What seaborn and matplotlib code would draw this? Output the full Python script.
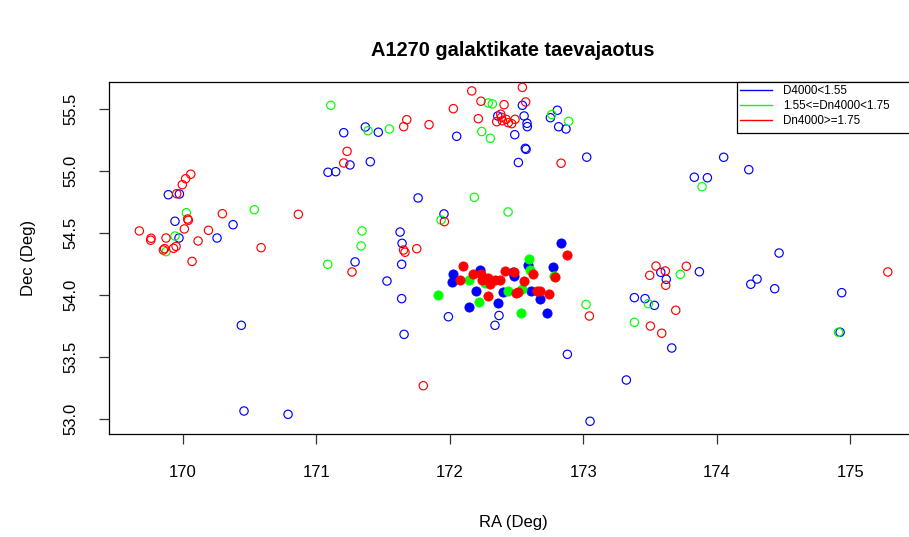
import matplotlib
matplotlib.use("Agg")
import matplotlib.pyplot as plt
from matplotlib.lines import Line2D
from matplotlib.patches import Rectangle
import seaborn as sns
import pandas as pd

plt.rcParams['font.family'] = ['Liberation Sans', 'DejaVu Sans']

# ---- data (RA, Dec in degrees) ----
open_blue_ra = [171.206, 171.253, 171.088, 171.146, 169.892, 169.975, 169.942, 170.377, 169.972, 170.257,
                170.439, 170.459, 170.789, 171.368, 171.465, 171.405, 172.052, 171.763, 171.957, 171.291,
                171.530, 171.628, 171.643, 171.640, 171.640, 171.658, 171.990, 172.369, 172.339, 172.544,
                172.360, 172.557, 172.579, 172.581, 172.487, 172.566, 172.572, 172.514, 172.754, 172.806,
                172.816, 172.871, 173.026, 174.052, 174.240, 173.832, 173.930, 174.467, 174.936, 174.924,
                173.870, 173.581, 173.622, 174.255, 174.302, 174.434, 173.383, 173.463, 173.533, 173.663,
                173.323, 173.051, 172.881]
open_blue_dec = [55.311, 55.051, 54.992, 54.997, 54.811, 54.817, 54.597, 54.569, 54.462, 54.462,
                 53.758, 53.067, 53.040, 55.357, 55.315, 55.077, 55.282, 54.785, 54.656, 54.269,
                 54.115, 54.510, 54.419, 54.250, 53.973, 53.685, 53.827, 53.837, 53.758, 55.532,
                 55.446, 55.446, 55.387, 55.360, 55.295, 55.185, 55.177, 55.071, 55.432, 55.492,
                 55.359, 55.341, 55.114, 55.113, 55.013, 54.952, 54.948, 54.341, 54.021, 53.702,
                 54.190, 54.185, 54.129, 54.089, 54.131, 54.053, 53.981, 53.973, 53.919, 53.575,
                 53.317, 52.984, 53.524]

open_green_ra = [171.109, 171.388, 171.548, 172.289, 172.319, 172.240, 172.304, 172.184, 172.437, 172.764,
                 172.891, 173.890, 170.027, 169.942, 169.875, 170.536, 171.086, 171.343, 171.336, 171.935,
                 173.021, 173.488, 173.727, 173.383, 174.912]
open_green_dec = [55.532, 55.327, 55.341, 55.551, 55.543, 55.321, 55.266, 54.790, 54.672, 55.458,
                  55.403, 54.876, 54.666, 54.478, 54.352, 54.690, 54.250, 54.519, 54.398, 54.607,
                  53.926, 53.932, 54.169, 53.782, 53.702]

open_red_ra = [171.231, 171.206, 170.060, 170.022, 169.997, 169.955, 170.297, 170.866, 170.042, 170.037,
               170.012, 169.675, 170.193, 169.763, 169.760, 169.875, 170.115, 169.864, 169.855, 169.931,
               169.950, 170.070, 170.587, 171.268, 171.654, 171.665, 171.753, 171.960, 171.678, 171.655,
               171.845, 172.027, 172.165, 172.234, 172.407, 172.544, 172.569, 172.214, 172.382, 172.352,
               172.394, 172.422, 172.439, 172.464, 172.489, 172.387, 172.834, 175.281, 173.772, 173.545,
               173.498, 173.615, 173.618, 173.693, 173.503, 173.588, 173.046, 171.802]
open_red_dec = [55.161, 55.067, 54.976, 54.940, 54.892, 54.819, 54.658, 54.653, 54.605, 54.615,
                54.535, 54.519, 54.524, 54.460, 54.444, 54.462, 54.438, 54.376, 54.365, 54.379,
                54.394, 54.273, 54.384, 54.188, 54.365, 54.347, 54.376, 54.594, 55.416, 55.360,
                55.376, 55.505, 55.648, 55.565, 55.537, 55.677, 55.559, 55.424, 55.460, 55.400,
                55.408, 55.419, 55.392, 55.384, 55.419, 55.435, 55.065, 54.188, 54.234, 54.236,
                54.161, 54.196, 54.081, 53.879, 53.752, 53.694, 53.833, 53.271]

fill_blue_ra = [172.836, 172.021, 172.017, 172.227, 172.195, 172.148, 172.360, 172.472, 172.483, 172.397,
                172.607, 172.673, 172.585, 172.774, 172.727]
fill_blue_dec = [54.424, 54.172, 54.110, 54.202, 54.037, 53.902, 53.934, 54.190, 54.153, 54.023,
                 54.033, 53.970, 54.242, 54.226, 53.857]

fill_green_ra = [171.910, 172.142, 172.264, 172.217, 172.437, 172.538, 172.596, 172.601, 172.781, 172.534]
fill_green_dec = [54.000, 54.122, 54.103, 53.942, 54.035, 54.047, 54.291, 54.204, 54.153, 53.856]

fill_red_ra = [172.881, 172.102, 172.079, 172.178, 172.236, 172.238, 172.285, 172.302, 172.339, 172.373,
               172.416, 172.482, 172.557, 172.624, 172.789, 172.288, 172.499, 172.515, 172.654, 172.679,
               172.744]
fill_red_dec = [54.327, 54.235, 54.121, 54.172, 54.168, 54.123, 54.142, 54.095, 54.121, 54.121,
                54.192, 54.185, 54.113, 54.172, 54.148, 53.993, 54.015, 54.029, 54.032, 54.031,
                54.013]

legend_labels = ["D4000<1.55", "1.55<=Dn4000<1.75", "Dn4000>=1.75"]
colors = ["#0000FF", "#00FF00", "#FF0000"]
x_ticks = [170, 171, 172, 173, 174, 175]
y_ticks = [53.0, 53.5, 54.0, 54.5, 55.0, 55.5]

# ---- figure ----
W, H = 909, 537
fig = plt.figure(figsize=(W / 100, H / 100), dpi=100)
ax = fig.add_axes([109.3 / W, (H - 434.3) / H, 807.7 / W, 352.3 / H])

open_sets = [(open_blue_ra, open_blue_dec, colors[0]),
             (open_green_ra, open_green_dec, colors[1]),
             (open_red_ra, open_red_dec, colors[2])]
for ra, dec, c in open_sets:
    df = pd.DataFrame({"RA": ra, "Dec": dec})
    sns.scatterplot(data=df, x="RA", y="Dec", ax=ax, s=36, marker="o",
                    facecolors="none", edgecolors=c, linewidths=0.85, legend=False, zorder=3)

fill_sets = [(fill_blue_ra, fill_blue_dec, colors[0]),
             (fill_green_ra, fill_green_dec, colors[1]),
             (fill_red_ra, fill_red_dec, colors[2])]
for ra, dec, c in fill_sets:
    df = pd.DataFrame({"RA": ra, "Dec": dec})
    sns.scatterplot(data=df, x="RA", y="Dec", ax=ax, s=44, marker="o",
                    color=c, edgecolor=c, linewidth=0.6, legend=False, zorder=4)

ax.set_xlim(169.450, 175.500)
ax.set_ylim(52.879, 55.720)
ax.set_xticks(x_ticks)
ax.set_xticklabels([str(t) for t in x_ticks])
ax.set_yticks(y_ticks)
ax.set_yticklabels([f"{t:.1f}" for t in y_ticks], rotation=90, va="center")
ax.tick_params(axis="both", direction="out", length=7, width=0.9, labelsize=12, color="#333333")
ax.tick_params(axis="x", pad=15)
ax.tick_params(axis="y", pad=15)
for sp in ax.spines.values():
    sp.set_linewidth(0.9)
    sp.set_color("black")
ax.set_xlabel("")
ax.set_ylabel("")

fig.text(513 / W, 1 - 50 / H, "A1270 galaktikate taevajaotus", ha="center", va="center",
         fontsize=14.4, fontweight="bold")
fig.text(513 / W, 1 - 523 / H, "RA (Deg)", ha="center", va="center", fontsize=12)
fig.text(28 / W, 1 - 258 / H, "Dec (Deg)", ha="center", va="center", fontsize=12, rotation=90)

# legend
ax.add_patch(Rectangle((0.7772, 0.8552), 0.2228, 0.1448, transform=ax.transAxes,
                       facecolor="white", edgecolor="black", linewidth=0.9, zorder=5, clip_on=False))
handles = [Line2D([0], [0], color=c, lw=1.0) for c in colors]
leg = ax.legend(handles, legend_labels, loc="upper left", bbox_to_anchor=(0.7809, 0.9906),
                frameon=False, fontsize=8.4, borderpad=0, borderaxespad=0,
                handlelength=2.75, handletextpad=0.95, labelspacing=0.25)
leg.set_zorder(6)

fig.savefig("out.png", dpi=100)
